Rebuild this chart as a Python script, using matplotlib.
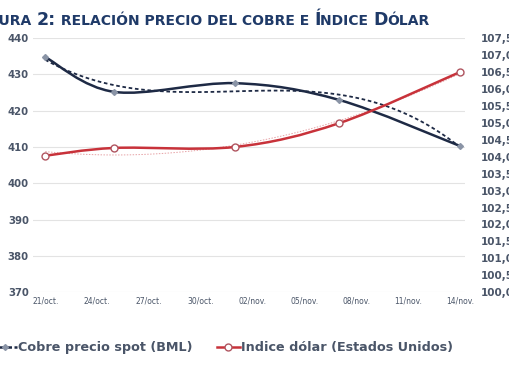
import numpy as np
import pandas as pd
import matplotlib
matplotlib.use("Agg")
import matplotlib.pyplot as plt
import matplotlib.dates as mdates
from matplotlib.path import Path
from matplotlib.patches import PathPatch
from matplotlib.lines import Line2D

# --- datos ---
fechas = pd.to_datetime(["2012-10-21", "2012-10-25", "2012-11-01", "2012-11-07", "2012-11-14"])
cobre = [434.8, 425.2, 427.6, 423.0, 410.3]          # eje izquierdo
dolar = [104.03, 104.26, 104.29, 104.99, 106.50]    # eje derecho

tick_fechas = pd.date_range("2012-10-21", "2012-11-14", freq="3D")
tick_labels = ["21/oct.", "24/oct.", "27/oct.", "30/oct.", "02/nov.",
               "05/nov.", "08/nov.", "11/nov.", "14/nov."]
left_ticks = [370, 380, 390, 400, 410, 420, 430, 440]
right_ticks = [100.0, 100.5, 101.0, 101.5, 102.0, 102.5, 103.0, 103.5,
               104.0, 104.5, 105.0, 105.5, 106.0, 106.5, 107.0, 107.5]

AZUL = "#1e2a45"
ROJO = "#c8323a"
TXT = "#4a5568"
TITULO = "#1f3a68"

plt.rcParams["font.family"] = "DejaVu Sans"


def smooth_path(x, y):
    # curva suave tipo Excel (Catmull-Rom -> Bezier) entre los puntos
    x = np.asarray(x, float)
    y = np.asarray(y, float)
    verts = [(x[0], y[0])]
    codes = [Path.MOVETO]
    n = len(x)
    for i in range(n - 1):
        x0, y0 = (x[i - 1], y[i - 1]) if i > 0 else (x[i], y[i])
        x3, y3 = (x[i + 2], y[i + 2]) if i + 2 < n else (x[i + 1], y[i + 1])
        c1 = (x[i] + (x[i + 1] - x0) / 6, y[i] + (y[i + 1] - y0) / 6)
        c2 = (x[i + 1] - (x3 - x[i]) / 6, y[i + 1] - (y3 - y[i]) / 6)
        verts += [c1, c2, (x[i + 1], y[i + 1])]
        codes += [Path.CURVE4] * 3
    return Path(verts, codes)


fig = plt.figure(figsize=(5.1, 3.82), dpi=100)
ax = fig.add_axes([0.065, 0.235, 0.847, 0.665])
ax2 = ax.twinx()

xd = mdates.date2num(fechas)
x0 = xd[0]

# cobre: linea suave + tendencia polinomica punteada
ax.add_patch(PathPatch(smooth_path(xd, cobre), fill=False, ec=AZUL, lw=1.8, zorder=3))
coef = np.polyfit(xd - x0, cobre, 3)
xs = np.linspace(xd[0], xd[-1], 120)
ax.plot(xs, np.polyval(coef, xs - x0), color=AZUL, lw=1.3, ls=(0, (2, 1.5)), zorder=3)
ax.plot(xd, cobre, ls="none", marker="D", ms=3, mfc="#8a94a6", mec="#8a94a6", zorder=4)

# dolar: linea suave + marcadores huecos
ax2.add_patch(PathPatch(smooth_path(xd, dolar), fill=False, ec=ROJO, lw=1.8, zorder=3))
coef2 = np.polyfit(xd - x0, dolar, 2)
ax2.plot(xs, np.polyval(coef2, xs - x0), color=ROJO, lw=0.7, ls=(0, (1.5, 1.5)), alpha=0.45, zorder=3)
ax2.plot(xd, dolar, ls="none", marker="o", ms=5, mfc="white", mec="#b05560", mew=1.0, zorder=4)

ax.set_xlim(xd[0] - 0.7, xd[-1] + 0.3)
ax.set_ylim(370, 440)
ax2.set_ylim(100, 107.5)

ax.set_yticks(left_ticks)
ax.set_yticklabels([str(v) for v in left_ticks], fontsize=7.3, fontweight="bold", color=TXT)
ax2.set_yticks(right_ticks)
ax2.set_yticklabels([f"{v:.1f}".replace(".", ",") for v in right_ticks],
                    fontsize=7.5, fontweight="bold", color=TXT)
ax.set_xticks(mdates.date2num(tick_fechas))
ax.set_xticklabels(tick_labels, fontsize=5.5, color=TXT)

ax.tick_params(axis="both", length=0)
ax.tick_params(axis="y", pad=3)
ax.tick_params(axis="x", pad=3)
ax2.tick_params(axis="y", length=0, pad=11)
ax.grid(axis="y", color="#e3e3e3", lw=0.8)
ax.set_axisbelow(True)
for a in (ax, ax2):
    for s in a.spines.values():
        s.set_visible(False)

# titulo en versalitas, cortado por la izquierda como en el original
partes = [("F", 12.5), ("IGURA ", 10), ("2:", 12.5), (" RELACIÓN PRECIO DEL COBRE E ", 10),
          ("Í", 12.5), ("NDICE ", 10), ("D", 12.5), ("ÓLAR", 10)]
renderer = fig.canvas.get_renderer()


def ancho(txt, fs):
    # ancho en pixeles, midiendo con un caracter testigo para contar los espacios
    t1 = fig.text(0, 0, txt + "|", fontsize=fs, fontweight="bold")
    t2 = fig.text(0, 0, "|", fontsize=fs, fontweight="bold")
    w = t1.get_window_extent(renderer).width - t2.get_window_extent(renderer).width
    t1.remove()
    t2.remove()
    return w


anchos = [ancho(t, fs) for t, fs in partes]
fig_w = fig.get_figwidth() * fig.dpi
x_px = 430 - sum(anchos)
for (txt, fs), w in zip(partes, anchos):
    fig.text(x_px / fig_w, 0.935, txt, fontsize=fs, fontweight="bold",
             color=TITULO, va="baseline", ha="left")
    x_px += w

handles = [
    Line2D([], [], color=AZUL, lw=1.8, ls=(0, (2, 1)), marker="D", ms=3, mfc="#8a94a6", mec="#8a94a6"),
    Line2D([], [], color=ROJO, lw=1.8, marker="o", ms=5, mfc="white", mec="#b05560"),
]
fig.legend(handles, ["Cobre precio spot (BML)", "Indice dólar (Estados Unidos)"],
           loc="center left", bbox_to_anchor=(-0.012, 0.09), ncol=2, frameon=False,
           borderpad=0, borderaxespad=0,
           handlelength=1.8, handletextpad=0.1, columnspacing=1.9,
           prop={"size": 9.2, "weight": "bold"}, labelcolor=TXT)

fig.savefig("out.png", dpi=100)
